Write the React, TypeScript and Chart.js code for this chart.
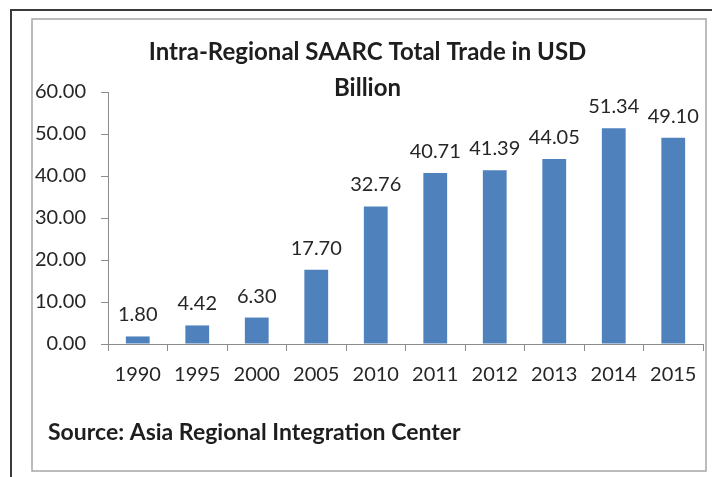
import { useEffect, useRef } from "react";
import { Chart, registerables } from "chart.js";

Chart.register(...registerables);

const years = ["1990", "1995", "2000", "2005", "2010", "2011", "2012", "2013", "2014", "2015"];
const trade = [1.8, 4.42, 6.3, 17.7, 32.76, 40.71, 41.39, 44.05, 51.34, 49.1];
const yMin = 0;
const yMax = 60;
const yStep = 10;
const titleLines = ["Intra-Regional SAARC Total Trade in USD", "Billion"];
const sourceText = "Source: Asia Regional Integration Center";

const FONT = "Lato, 'Open Sans', sans-serif";
const TEXT = "#262626";
const AXIS = "#8c8c8c";
const BAR = "#4f81bd";

const framePlugin = {
  id: "frame",
  beforeDraw(chart: any) {
    const ctx = chart.ctx;
    ctx.save();
    ctx.fillStyle = "#ffffff";
    ctx.fillRect(0, 0, chart.width, chart.height);
    ctx.strokeStyle = "#3a3a3a";
    ctx.lineWidth = 2;
    ctx.beginPath();
    ctx.moveTo(11, chart.height);
    ctx.lineTo(11, 10);
    ctx.lineTo(712, 10);
    ctx.stroke();
    ctx.strokeStyle = "#a6a6a6";
    ctx.lineWidth = 1.5;
    ctx.strokeRect(32, 19, 674, 452);
    ctx.restore();
  },
  afterDraw(chart: any) {
    const ctx = chart.ctx;
    ctx.save();
    ctx.font = `bold 23px ${FONT}`;
    ctx.fillStyle = "#1e1e1e";
    ctx.textAlign = "left";
    ctx.textBaseline = "alphabetic";
    ctx.fillText(sourceText, 48, 440);
    ctx.restore();
  },
};

const dataLabelPlugin = {
  id: "dataLabels",
  afterDatasetsDraw(chart: any) {
    const ctx = chart.ctx;
    const meta = chart.getDatasetMeta(0);
    const values = chart.data.datasets[0].data as number[];
    ctx.save();
    ctx.font = `20px ${FONT}`;
    ctx.fillStyle = TEXT;
    ctx.textAlign = "center";
    ctx.textBaseline = "alphabetic";
    meta.data.forEach((bar: any, i: number) => {
      ctx.fillText(values[i].toFixed(2), bar.x, bar.y - 15);
    });
    ctx.restore();
  },
};

export default function App() {
  const canvasRef = useRef<HTMLCanvasElement | null>(null);

  useEffect(() => {
    if (!canvasRef.current) return;
    const chart = new Chart(canvasRef.current, {
      type: "bar",
      data: {
        labels: years,
        datasets: [
          {
            data: trade,
            backgroundColor: BAR,
            borderWidth: 0,
            barPercentage: 0.4,
            categoryPercentage: 1.0,
          },
        ],
      },
      options: {
        animation: false,
        responsive: false,
        maintainAspectRatio: false,
        layout: { padding: { left: 32, right: 19, top: 34, bottom: 83 } },
        plugins: {
          legend: { display: false },
          tooltip: { enabled: false },
          title: {
            display: true,
            text: titleLines,
            color: "#1e1e1e",
            font: { family: FONT, size: 24, weight: "bold", lineHeight: 36 / 24 },
            padding: { top: 0, bottom: -14 },
          },
        },
        scales: {
          x: {
            grid: { drawOnChartArea: false, drawTicks: true, tickLength: 7, color: AXIS, offset: true },
            border: { display: true, color: AXIS, width: 1 },
            ticks: { color: TEXT, font: { family: FONT, size: 20 }, padding: 12, maxRotation: 0 },
            afterFit: (s: any) => {
              s.height = 50;
            },
          },
          y: {
            min: yMin,
            max: yMax,
            grid: { drawOnChartArea: false, drawTicks: true, tickLength: 7, color: AXIS },
            border: { display: true, color: AXIS, width: 1 },
            ticks: {
              stepSize: yStep,
              color: TEXT,
              font: { family: FONT, size: 20 },
              padding: 15,
              callback: (v: any) => Number(v).toFixed(2),
            },
            afterFit: (s: any) => {
              s.width = 76;
            },
          },
        },
      },
      plugins: [framePlugin, dataLabelPlugin],
    });
    return () => chart.destroy();
  }, []);

  return (
    <div style={{ position: "fixed", left: 0, top: 0, width: 722, height: 477, background: "#fff" }}>
      <canvas ref={canvasRef} width={722} height={477} style={{ width: 722, height: 477, display: "block" }} />
    </div>
  );
}
